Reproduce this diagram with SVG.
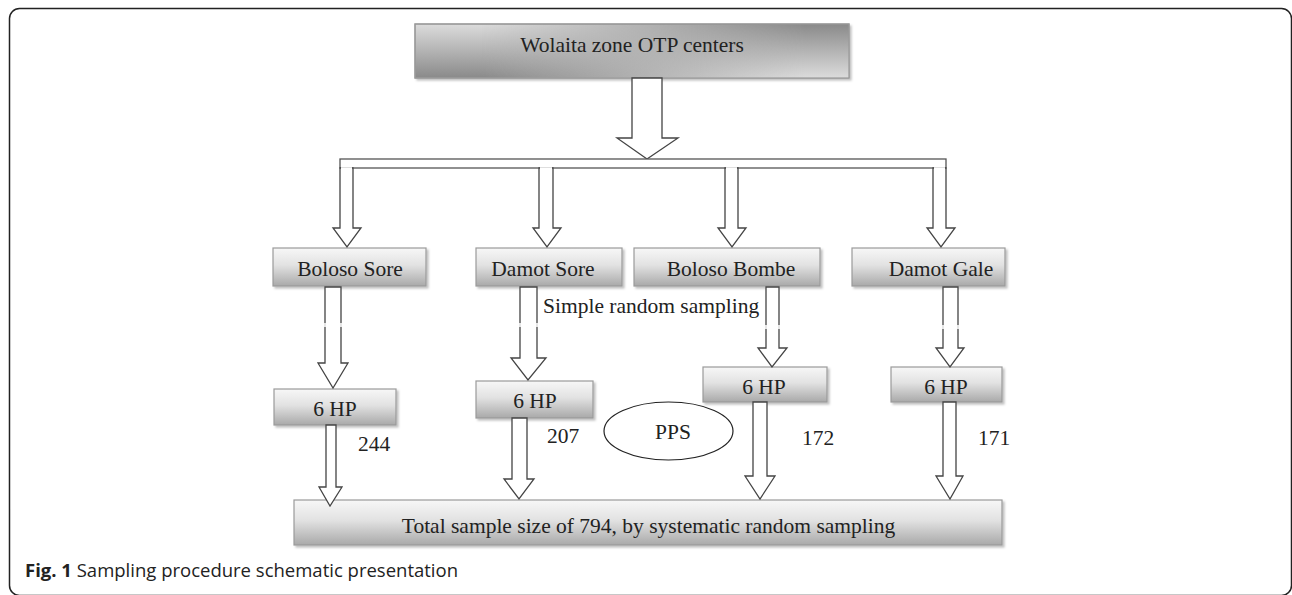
<svg xmlns="http://www.w3.org/2000/svg" width="1292" height="595" viewBox="0 0 1292 595">
<defs>
<linearGradient id="gBox" x1="0" y1="0" x2="0" y2="1">
<stop offset="0" stop-color="#f7f7f7"/>
<stop offset="0.45" stop-color="#e2e2e2"/>
<stop offset="1" stop-color="#a9a9a9"/>
</linearGradient>
<linearGradient id="gTopA" x1="0" y1="0" x2="0" y2="1">
<stop offset="0" stop-color="#dcdcdc"/>
<stop offset="1" stop-color="#8a8a8a"/>
</linearGradient>
<linearGradient id="gTopB" x1="0" y1="0" x2="0" y2="1">
<stop offset="0" stop-color="#8a8a8a"/>
<stop offset="1" stop-color="#dcdcdc"/>
</linearGradient>
<linearGradient id="gMask" x1="0" y1="0" x2="1" y2="0">
<stop offset="0.15" stop-color="#000"/>
<stop offset="0.9" stop-color="#fff"/>
</linearGradient>
<mask id="mTop" maskUnits="userSpaceOnUse" x="415" y="24" width="434" height="54">
<rect x="415" y="24" width="434" height="54" fill="url(#gMask)"/>
</mask>
<filter id="sh" x="-10%" y="-20%" width="120%" height="150%">
<feDropShadow dx="2" dy="2" stdDeviation="1" flood-color="#000" flood-opacity="0.25"/>
</filter>
</defs>
<style>
.box{fill:url(#gBox);stroke:#9a9a9a;stroke-width:1.2;filter:url(#sh)}
.t{font-family:"Liberation Serif","Times New Roman",serif;font-size:21.5px;fill:#222;text-anchor:middle}
.l{font-family:"Liberation Serif","Times New Roman",serif;font-size:21.5px;fill:#222}
.arr{fill:#fff;stroke:#444;stroke-width:1.3;stroke-linejoin:miter}
.gap{fill:#fff;opacity:0.8}
</style>
<rect x="9.5" y="8.5" width="1282" height="587" rx="10" ry="10" fill="#fff" stroke="#222" stroke-width="1.5"/>

<g id="node-top">
<rect x="415" y="24" width="434" height="54" fill="url(#gTopA)" stroke="#9a9a9a" stroke-width="1.2" filter="url(#sh)"/>
<rect x="415" y="24" width="434" height="54" fill="url(#gTopB)" mask="url(#mTop)"/>
<rect x="415" y="24" width="434" height="54" fill="none" stroke="#9a9a9a" stroke-width="1.2"/>
<text class="t" x="632" y="52">Wolaita zone OTP centers</text>
</g>

<g id="node-boloso-sore">
<rect class="box" x="273" y="248" width="153" height="38"/>
<text class="t" x="350" y="276">Boloso Sore</text>
</g>
<g id="node-damot-sore">
<rect class="box" x="476" y="248" width="146" height="38"/>
<text class="t" x="543" y="276">Damot Sore</text>
</g>
<g id="node-boloso-bombe">
<rect class="box" x="634" y="248" width="186" height="38"/>
<text class="t" x="731" y="276">Boloso Bombe</text>
</g>
<g id="node-damot-gale">
<rect class="box" x="852" y="248" width="153" height="38"/>
<text class="t" x="941" y="276">Damot Gale</text>
</g>

<g id="node-hp1">
<rect class="box" x="274" y="389" width="122" height="36"/>
<text class="t" x="335" y="416">6 HP</text>
</g>
<g id="node-hp2">
<rect class="box" x="476" y="381" width="117" height="37"/>
<text class="t" x="535" y="408">6 HP</text>
</g>
<g id="node-hp3">
<rect class="box" x="703" y="367" width="124" height="35"/>
<text class="t" x="764" y="394">6 HP</text>
</g>
<g id="node-hp4">
<rect class="box" x="891" y="367" width="111" height="35"/>
<text class="t" x="946" y="394">6 HP</text>
</g>

<g id="node-pps">
<ellipse cx="668.5" cy="431" rx="64.5" ry="29" fill="#fff" stroke="#222" stroke-width="1.2"/>
<text class="t" x="673" y="439">PPS</text>
</g>

<g id="node-total">
<rect class="box" x="294" y="500" width="708" height="45"/>
<text class="t" x="648.5" y="533">Total sample size of 794, by systematic random sampling</text>
</g>

<g id="connectors">
<polygon class="arr" points="632,78 662,78 662,138 678,138 647,159 617,138 632,138"/>
<rect x="340" y="159" width="606" height="9" fill="#fff" stroke="#555" stroke-width="1.3"/>
<polygon class="arr" points="340,168 353,168 353,228 361,228 347,247 333,228 340,228"/>
<polygon class="arr" points="539,168 553,168 553,228 561,228 547,247 533,228 539,228"/>
<polygon class="arr" points="725,168 738,168 738,228 746,228 732,247 718,228 725,228"/>
<polygon class="arr" points="933,168 946,168 946,228 955,228 941,247 927,228 933,228"/>
<rect x="341" y="167.2" width="11" height="2" fill="#fff"/>
<rect x="540" y="167.2" width="12" height="2" fill="#fff"/>
<rect x="726" y="167.2" width="11" height="2" fill="#fff"/>
<rect x="934" y="167.2" width="11" height="2" fill="#fff"/>

<polygon class="arr" points="325,287 341,287 341,363 348,363 333,388 318,363 325,363"/>
<polygon class="arr" points="520,287 537,287 537,358 546,358 528,380 511,358 520,358"/>
<polygon class="arr" points="766,287 779,287 779,348 787,348 772,367 758,348 766,348"/>
<polygon class="arr" points="943,287 958,287 958,348 964,348 950,367 936,348 943,348"/>
<rect class="gap" x="322" y="323" width="22" height="4"/>
<rect class="gap" x="517" y="323" width="23" height="4"/>
<rect class="gap" x="763" y="325" width="19" height="4"/>
<rect class="gap" x="940" y="325" width="21" height="4"/>

<polygon class="arr" points="326,425 336,425 336,487 342,487 330,506 319,487 326,487"/>
<polygon class="arr" points="512,418 527,418 527,479 534,479 519,499 504,479 512,479"/>
<polygon class="arr" points="753,402 767,402 767,476 775,476 760,499 745,476 753,476"/>
<polygon class="arr" points="943,402 956,402 956,476 963,476 950,499 936,476 943,476"/>
</g>

<g id="labels">
<text class="l" x="543" y="313">Simple random sampling</text>
<text class="l" x="358" y="451">244</text>
<text class="l" x="547" y="443">207</text>
<text class="l" x="802" y="445">172</text>
<text class="l" x="978" y="445">171</text>
</g>

<text x="25" y="577" font-family="'Open Sans','Noto Sans',sans-serif" font-size="18.5" fill="#222"><tspan font-weight="bold">Fig. 1</tspan> Sampling procedure schematic presentation</text>
</svg>
